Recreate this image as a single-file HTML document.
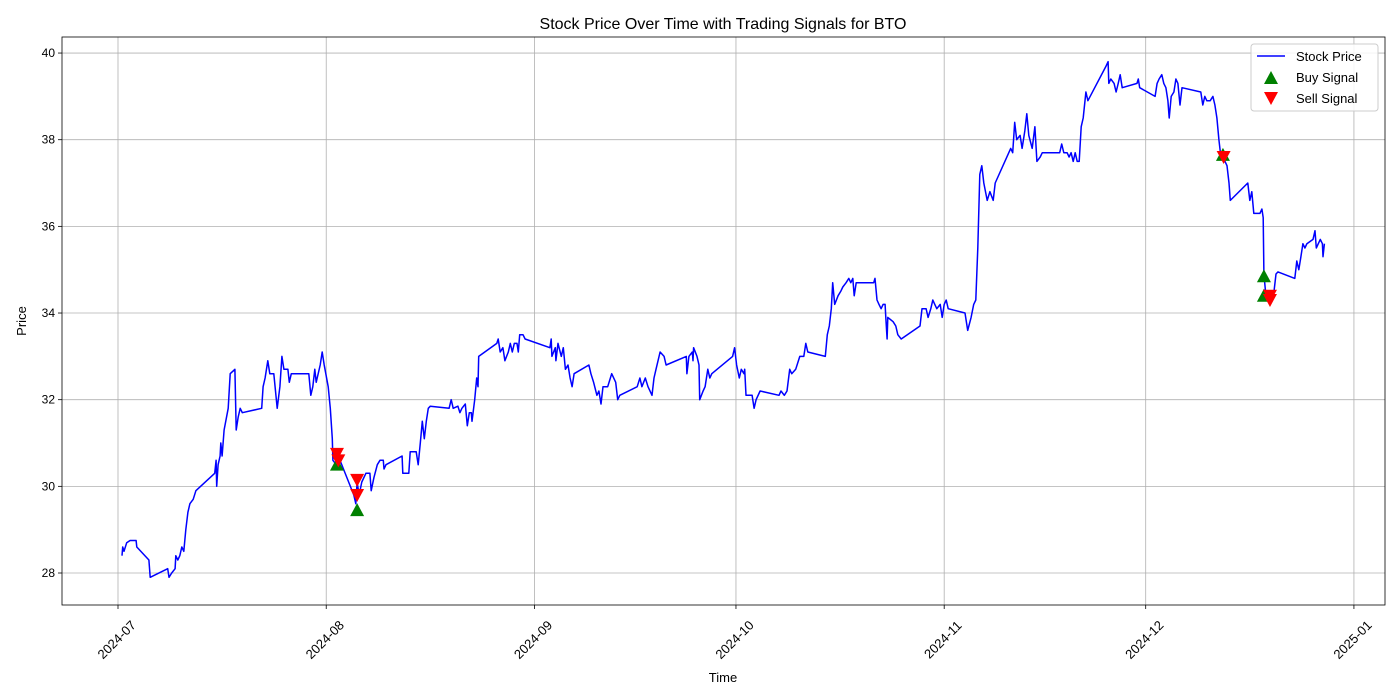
<!DOCTYPE html>
<html><head><meta charset="utf-8"><style>
body{margin:0;background:#fff;font-family:"Liberation Sans","DejaVu Sans",sans-serif}
svg{display:block}
</style></head><body>
<svg id="chart" width="1400" height="700" xmlns="http://www.w3.org/2000/svg"></svg>
<script>
// data: [days since 2024-07-01, price]
const priceDays=[0.6,0.7,0.9,1.3,1.8,2.7,2.8,4.6,4.8,7.4,7.6,8.0,8.5,8.6,8.9,9.2,9.5,9.8,10.1,10.4,10.7,11.2,11.6,14.4,14.6,14.7,14.9,15.2,15.3,15.5,15.8,16.4,16.7,17.4,17.6,17.9,18.2,18.5,21.4,21.6,21.9,22.3,22.6,23.2,23.7,24.1,24.4,24.7,25.3,25.5,25.8,28.4,28.7,29.0,29.3,29.5,30.1,30.4,30.7,31.3,31.6,31.9,32.0,32.5,32.8,35.1,35.4,35.6,35.9,36.3,36.9,37.5,37.7,38.1,38.6,39.0,39.5,39.6,39.9,42.3,42.4,43.3,43.5,44.4,44.7,45.0,45.3,45.6,45.9,46.2,46.5,49.3,49.6,49.9,50.6,50.9,51.2,51.7,52.0,52.3,52.6,52.7,53.1,53.4,53.6,53.7,56.4,56.6,56.9,57.3,57.6,58.1,58.4,58.7,59.0,59.4,59.6,59.8,60.3,60.6,64.3,64.5,64.6,65.1,65.2,65.5,66.0,66.3,66.6,67.0,67.3,67.6,67.9,70.1,70.4,70.8,71.3,71.6,71.9,72.2,72.9,73.5,74.1,74.4,74.7,77.3,77.7,78.0,78.5,78.9,79.5,79.8,80.1,80.7,81.3,81.6,84.6,84.7,85.0,85.5,85.6,85.7,86.2,86.5,86.6,87.1,87.4,87.8,88.1,88.4,91.5,91.8,92.1,92.5,92.8,93.2,93.3,93.5,94.4,94.7,95.0,95.6,98.4,98.7,99.2,99.6,100.0,100.3,100.9,101.5,102.1,102.4,102.7,105.3,105.6,105.9,106.2,106.4,106.7,107.2,107.6,107.9,108.4,108.8,109.1,109.4,109.6,109.9,112.5,112.7,113.0,113.3,113.6,113.9,114.2,114.3,114.5,114.6,115.4,115.8,116.1,116.6,119.4,119.7,120.3,120.6,121.0,121.3,121.6,121.9,122.4,122.7,123.0,123.3,123.6,126.1,126.5,127.0,127.4,127.7,128.0,128.3,128.6,128.9,129.4,129.8,130.3,130.6,132.9,133.2,133.5,133.8,134.3,134.6,135.0,135.3,135.6,136.1,136.5,136.8,137.3,137.6,140.2,140.5,140.8,141.3,141.6,141.9,142.2,142.5,142.8,143.1,143.4,143.7,144.1,144.4,147.1,147.4,147.5,147.8,148.3,148.6,148.9,149.2,149.5,151.7,151.9,152.1,154.4,154.7,155.0,155.4,155.7,156.0,156.3,156.5,156.8,157.2,157.5,157.8,158.1,158.4,161.2,161.5,161.8,162.1,162.6,163.0,163.3,163.6,163.9,164.2,164.5,164.8,165.1,165.4,165.6,168.2,168.5,168.8,169.1,169.4,170.0,170.3,170.5,170.6,170.9,171.2,171.5,171.8,172.1,172.4,172.7,175.2,175.5,175.8,176.1,176.4,176.7,177.0,177.9,178.2,178.4,178.7,179.0,179.3,179.4,179.6];
const priceValues=[28.4,28.6,28.5,28.7,28.75,28.75,28.6,28.3,27.9,28.1,27.9,28.0,28.1,28.4,28.3,28.4,28.6,28.5,29.0,29.4,29.6,29.7,29.9,30.3,30.6,30.0,30.5,30.7,31.0,30.7,31.3,31.8,32.6,32.7,31.3,31.6,31.8,31.7,31.8,32.3,32.5,32.9,32.6,32.6,31.8,32.3,33.0,32.7,32.7,32.4,32.6,32.6,32.1,32.3,32.7,32.4,32.8,33.1,32.8,32.3,31.8,31.1,30.6,30.5,30.7,29.8,29.6,30.1,29.8,30.1,30.3,30.3,29.9,30.2,30.5,30.6,30.6,30.4,30.5,30.7,30.3,30.3,30.8,30.8,30.5,31.0,31.5,31.1,31.5,31.8,31.85,31.8,32.0,31.8,31.85,31.7,31.8,31.9,31.4,31.7,31.7,31.5,32.0,32.5,32.3,33.0,33.3,33.4,33.1,33.2,32.9,33.1,33.3,33.1,33.3,33.3,33.1,33.5,33.5,33.4,33.2,33.4,33.0,33.2,32.9,33.3,33.0,33.2,32.7,32.8,32.5,32.3,32.6,32.8,32.6,32.4,32.1,32.2,31.9,32.3,32.3,32.6,32.4,32.0,32.1,32.3,32.5,32.3,32.5,32.3,32.1,32.5,32.7,33.1,33.0,32.8,33.0,32.6,33.0,33.1,32.9,33.2,33.0,32.8,32.0,32.2,32.3,32.7,32.5,32.6,33.0,33.2,32.8,32.5,32.7,32.6,32.7,32.1,32.1,31.8,32.0,32.2,32.1,32.2,32.1,32.2,32.7,32.6,32.7,33.0,33.0,33.3,33.1,33.0,33.5,33.7,34.1,34.7,34.2,34.4,34.5,34.6,34.7,34.8,34.7,34.8,34.4,34.7,34.7,34.8,34.3,34.2,34.1,34.2,34.2,33.9,33.4,33.9,33.8,33.7,33.5,33.4,33.7,34.1,34.1,33.9,34.1,34.3,34.2,34.1,34.2,33.9,34.2,34.3,34.1,34.0,33.6,33.9,34.2,34.3,35.5,37.2,37.4,37.0,36.6,36.8,36.6,37.0,37.8,37.7,38.4,38.0,38.1,37.8,38.2,38.6,38.1,37.8,38.3,37.5,37.6,37.7,37.7,37.9,37.7,37.7,37.6,37.7,37.5,37.7,37.5,37.5,38.3,38.5,39.1,38.9,39.7,39.8,39.3,39.4,39.3,39.1,39.3,39.5,39.2,39.3,39.4,39.2,39.0,39.3,39.4,39.5,39.3,39.2,38.9,38.5,39.0,39.1,39.4,39.3,38.8,39.2,39.1,38.8,39.0,38.9,38.9,39.0,38.8,38.5,38.0,37.6,37.7,37.5,37.4,37.0,36.6,37.0,36.6,36.8,36.3,36.3,36.3,36.4,36.2,34.9,34.4,34.4,34.2,34.4,34.5,34.9,34.95,34.8,35.2,35.0,35.3,35.6,35.5,35.6,35.7,35.9,35.5,35.6,35.7,35.6,35.3,35.6];
const buyDays=[32.6,35.6,164.5,170.6,170.6];
const buyValues=[30.5,29.45,37.65,34.85,34.4];
const sellDays=[32.6,32.8,35.6,35.6,164.6,171.5,171.5];
const sellValues=[30.75,30.6,30.15,29.8,37.6,34.4,34.3];
const yTicks=[28,30,32,34,36,38,40];
const xTickDays=[0,31,62,92,123,153,184];
const xTickLabels=["2024-07","2024-08","2024-09","2024-10","2024-11","2024-12","2025-01"];

const svg=document.getElementById('chart');
const NS='http://www.w3.org/2000/svg';
const L=62,R=1385,T=37,B=605;
const X=d=>118+d*6.717;
const Y=v=>573-(v-28)*43.33;
function mk(tag,attrs,parent){const e=document.createElementNS(NS,tag);for(const k in attrs)e.setAttribute(k,attrs[k]);(parent||svg).appendChild(e);return e;}

const grid=mk('g',{});


yTicks.forEach((v,i)=>{
  mk('line',{x1:L,x2:R,y1:Y(v),y2:Y(v),stroke:'#b0b0b0','stroke-width':0.8},grid);
  mk('line',{x1:L-4,x2:L,y1:Y(v),y2:Y(v),stroke:'#000','stroke-width':0.8});
  const t=mk('text',{x:L-7,y:Y(v)+4,'text-anchor':'end','font-size':12});
  t.textContent=v;
  
  
});
xTickDays.forEach((d,i)=>{
  const x=X(d);
  mk('line',{x1:x,x2:x,y1:T,y2:B,stroke:'#b0b0b0','stroke-width':0.8},grid);
  mk('line',{x1:x,x2:x,y1:B,y2:B+4,stroke:'#000','stroke-width':0.8});
  const cx=x-1,cy=B+35;
  const t=mk('text',{x:cx,y:cy+4,'text-anchor':'middle','font-size':13,transform:`rotate(-45 ${cx} ${cy})`});
  t.textContent=xTickLabels[i];
  
  
});

const line=mk('polyline',{points:priceDays.map((d,i)=>X(d).toFixed(1)+','+Y(priceValues[i]).toFixed(1)).join(' '),fill:'none',stroke:'#0000ff','stroke-width':1.5,'stroke-linejoin':'round'});



buyDays.forEach((d,i)=>{
  const x=X(d),y=Y(buyValues[i]);
  const p=mk('polygon',{points:`${x-7},${y+6} ${x+7},${y+6} ${x},${y-7}`,fill:'#008000'});
  
  
});
sellDays.forEach((d,i)=>{
  const x=X(d),y=Y(sellValues[i]);
  const p=mk('polygon',{points:`${x-7},${y-6} ${x+7},${y-6} ${x},${y+7}`,fill:'#ff0000'});
  
  
});

const frame=mk('rect',{x:L,y:T,width:R-L,height:B-T,fill:'none',stroke:'#000','stroke-width':0.8});



const title=mk('text',{x:723,y:29,'text-anchor':'middle','font-size':16});
title.textContent='Stock Price Over Time with Trading Signals for BTO';


const xt=mk('text',{x:723,y:682,'text-anchor':'middle','font-size':13});
xt.textContent='Time';


const yt=mk('text',{x:26,y:321,'text-anchor':'middle','font-size':13,transform:'rotate(-90 26 321)'});
yt.textContent='Price';



const lg=mk('g',{});


mk('rect',{x:1251,y:44,width:127,height:67,rx:3,fill:'#fff','fill-opacity':0.85,stroke:'#ccc'},lg);
mk('line',{x1:1257,x2:1285,y1:56,y2:56,stroke:'#0000ff','stroke-width':1.5},lg);
mk('polygon',{points:'1264,84 1278,84 1271,71',fill:'#008000'},lg);
mk('polygon',{points:'1264,92 1278,92 1271,105',fill:'#ff0000'},lg);
[['Stock Price',61],['Buy Signal',82],['Sell Signal',103]].forEach(([s,y])=>{
  const t=mk('text',{x:1296,y:y,'font-size':13},lg);
  t.textContent=s;
  
  
});
</script>
</body></html>
